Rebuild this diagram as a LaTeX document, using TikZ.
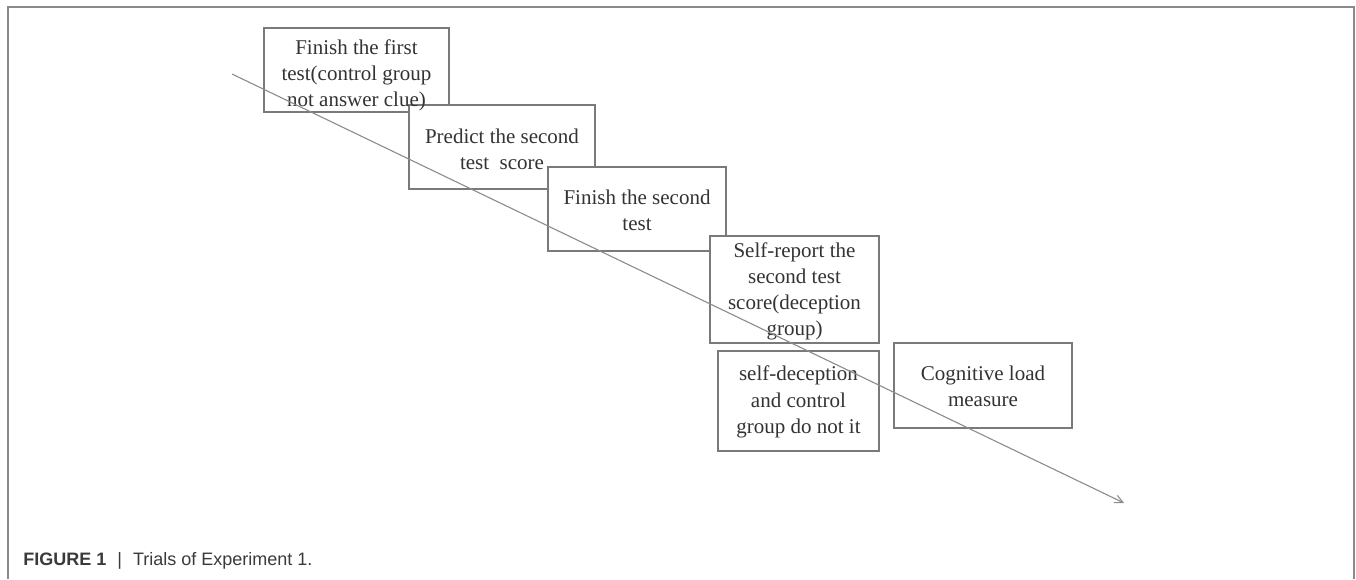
\documentclass[tikz,border=0pt]{standalone}
\usepackage{fontspec}
\setmainfont{Liberation Serif}
\newfontfamily\capfont{Liberation Sans}
\usetikzlibrary{arrows.meta}
\definecolor{boxgray}{HTML}{7A7A7A}
\definecolor{txtgray}{HTML}{333333}
\definecolor{framegray}{HTML}{8A8A8A}
\definecolor{arrgray}{HTML}{8C8C8C}
\definecolor{capgray}{HTML}{3A3A3A}
\begin{document}
\begin{tikzpicture}[x=0.5pt,y=-0.5pt,
  stepbox/.style={draw=boxgray, line width=0.65pt, fill=white, inner sep=0pt},
  boxtext/.style={inner sep=0pt, align=center, text=txtgray,
    font=\fontsize{10.5}{13.1}\selectfont},
  framestyle/.style={draw=framegray, line width=0.6pt},
  arrowline/.style={draw=arrgray, line width=0.55pt, -{Straight Barb[length=4pt,width=4pt]}},
]
\useasboundingbox (0,0) rectangle (1356,579);
\draw[framestyle] (8,579) -- (8,7) -- (1354,7) -- (1354,579);

% boxes (later ones cover the corners of earlier ones)
\node[stepbox, minimum width=92.5pt, minimum height=42pt] (b1) at (356.5,70) {};
\node[stepbox, minimum width=93pt, minimum height=42pt] (b2) at (502,147) {};
\node[stepbox, minimum width=89pt, minimum height=42pt] (b3) at (637,209) {};
\node[stepbox, minimum width=84.5pt, minimum height=53.5pt] (b4) at (794.5,289.5) {};
\node[stepbox, minimum width=80.5pt, minimum height=50pt] (b5) at (798.5,401) {};
\node[stepbox, minimum width=89pt, minimum height=42.5pt] (b6) at (983,385.5) {};

% texts
\node[boxtext, yshift=-2.8pt] (t1) at (b1.center)
  {Finish the first\\test(control group\\not answer clue)};
\node[boxtext, yshift=-1.3pt] (t2) at (b2.center)
  {Predict the second\\test\ \ score};
\node[boxtext, yshift=-0.6pt] (t3) at (b3.center)
  {Finish the second\\test};
\node[boxtext, yshift=-1pt] (t4) at (b4.center)
  {Self-report the\\second test\\score(deception\\group)};
\node[boxtext, yshift=-0.5pt] (t5) at (b5.center)
  {self-deception\\and control\\group do not it};
\node[boxtext, yshift=-0.5pt] (t6) at (b6.center)
  {Cognitive load\\measure};

\coordinate (as) at (232,74);
\coordinate (ae) at (1124,503);
\draw[arrowline] (as) -- (ae);

\node[anchor=base west, inner sep=0pt, text=capgray, font=\capfont\fontsize{9}{11}\selectfont] (cap) at (23,565)
  {\textbf{FIGURE 1}\hspace{5.5pt}|\hspace{5.5pt}Trials of Experiment 1.};
\end{tikzpicture}
\end{document}
